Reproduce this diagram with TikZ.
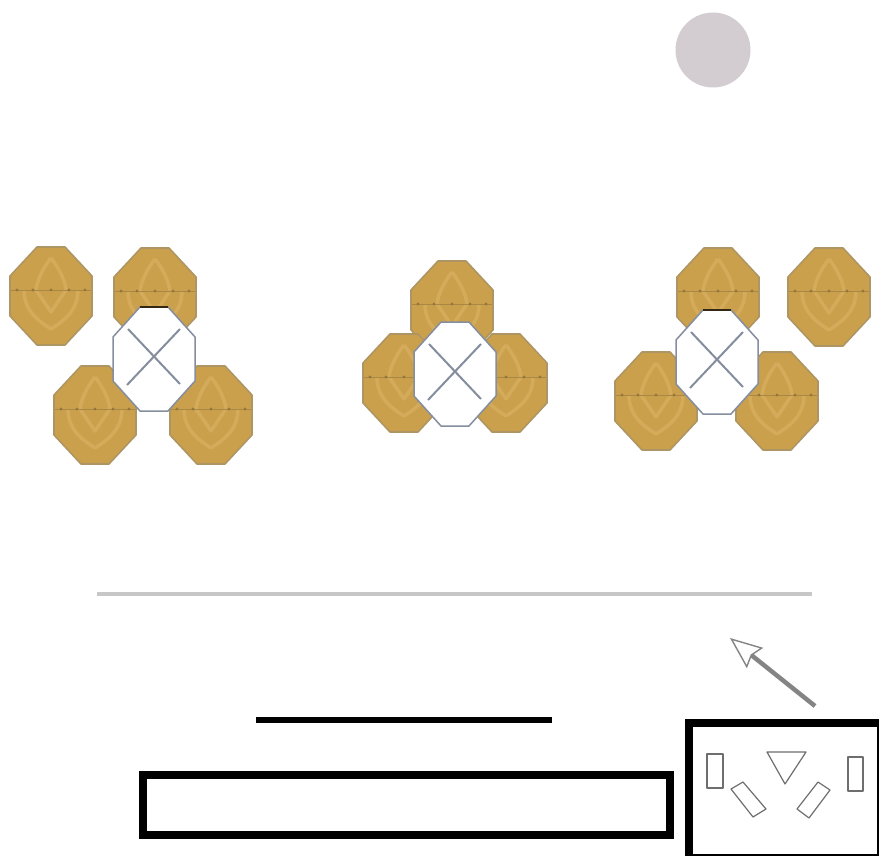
\documentclass[tikz,border=0pt]{standalone}
\usepackage{xcolor}
\usetikzlibrary{arrows.meta}
\definecolor{ocre}{HTML}{CBA04C}
\definecolor{ocreclaro}{HTML}{D4AB5A}
\definecolor{borde}{HTML}{AE9664}
\definecolor{punto}{HTML}{94773C}
\definecolor{acero}{HTML}{858E9E}
\definecolor{luna}{HTML}{D3CCD0}
\definecolor{trazo}{HTML}{6E6E6E}

\begin{document}
\begin{tikzpicture}[x=1pt, y=-1pt,
  banda/.style={ocreclaro, line width=3.5pt, line join=round},
  pieza/.style={draw=trazo, line width=1.2pt, fill=white, line join=round},
  negro/.style={draw=black, line cap=butt},
  pics/diana/.style={code={
    \draw[fill=ocre, draw=borde, line width=1.6pt, line join=round]
      (-14,-49) -- (14,-49) -- (41,-20) -- (41,20) -- (14,49) -- (-14,49) -- (-41,20) -- (-41,-20) -- cycle;
    \draw[banda] (0,-38) .. controls (-10,-25) and (-14,-14) .. (-15,-6) -- (0,16) -- (15,-6) .. controls (14,-14) and (10,-25) .. (0,-38);
    \draw[banda] (-27,-6) .. controls (-27,14) and (-14,24) .. (0,33) .. controls (14,24) and (27,14) .. (27,-6);
    \draw[punto!60!ocre, line width=0.4pt] (-40,-6) -- (40,-6);
    \foreach \dx in {-34,-18,0,18,34} \fill[punto] (\dx,-6) circle (1.6pt);
  }},
  pics/blanco/.style={code={
    \draw[fill=white, draw=acero, line width=1.5pt, line join=round]
      (-14,-52) -- (14,-52) -- (41,-22) -- (41,22) -- (14,52) -- (-14,52) -- (-41,22) -- (-41,-22) -- cycle;
    \draw[acero, line width=2pt] (-26,-30) -- (26,25) (26,-30) -- (-27,26);
  }}]
  \useasboundingbox (0,0) rectangle (879,856);

  \node[circle, fill=luna, minimum size=75pt, inner sep=0pt] (luna) at (713,50) {};

  % grupo izquierdo
  \foreach \px/\py in {51/296, 155/297, 95/415, 211/415} \pic at (\px,\py) {diana};
  \pic at (154,359) {blanco};
  \draw[black!75!ocre, line width=1.5pt] (140,307) -- (168,307);
  % grupo central
  \foreach \px/\py in {452/310, 404/383, 506/383} \pic at (\px,\py) {diana};
  \pic at (455,374) {blanco};
  % grupo derecho
  \foreach \px/\py in {718/297, 829/297, 656/401, 777/401} \pic at (\px,\py) {diana};
  \pic at (717,362) {blanco};
  \draw[black!75!ocre, line width=1.5pt] (703,310) -- (731,310);

  \draw[draw=black!22, line width=4pt] (97,594) -- (812,594);
  \draw[negro, line width=5.5pt] (256,720) -- (552,720);
  \draw[negro, line width=8pt] (143,775) rectangle (670,835);
  \draw[negro, line width=8pt] (689,723) rectangle (881,858);

  \coordinate (cola) at (815,706);
  \coordinate (punta) at (730,638);
  \draw[trazo!85, line width=4.5pt, -{Stealth[length=32pt, width=26pt, inset=4pt, fill=white, line width=1.4pt]}] (cola) -- (punta);

  % piezas dentro del recuadro
  \draw[pieza] (707,754) rectangle (723,788);
  \draw[pieza] (848,757) rectangle (863,791);
  \draw[pieza] (767,752) -- (806,752) -- (785,784) -- cycle;
  \draw[pieza] (731,789) -- (743,782) -- (766,809) -- (753,817) -- cycle;
  \draw[pieza] (797,809) -- (818,782) -- (830,790) -- (809,818) -- cycle;
\end{tikzpicture}
\end{document}
